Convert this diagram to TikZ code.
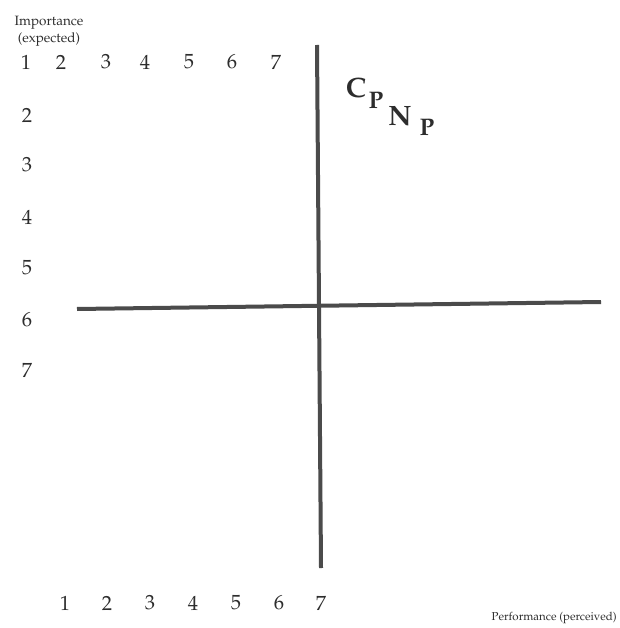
\documentclass[tikz,border=0pt]{standalone}
\usepackage[T1]{fontenc}
\usepackage{mathpazo}
\usepackage{tikz}
\usetikzlibrary{positioning}
\definecolor{axisgray}{RGB}{75,75,75}
\definecolor{inkgray}{RGB}{45,45,45}

\begin{document}
\begin{tikzpicture}[
  x=1pt, y=-1pt,
  num/.style={font=\fontsize{20.5}{22}\selectfont, inner sep=0pt, text=inkgray},
  lbl/.style={font=\fontsize{13.5}{17}\selectfont, inner sep=0pt, align=center, text=inkgray},
  axisline/.style={line width=4pt, axisgray},
  sym/.style={font=\fontsize{28}{30}\selectfont\bfseries, inner sep=0pt, text=inkgray},
  subsym/.style={font=\fontsize{24}{26}\selectfont\bfseries, inner sep=0pt, text=inkgray}
]
\useasboundingbox (0,0) rectangle (619,628);

% axes
\coordinate (vtop) at (317,45);
\coordinate (vbot) at (321,568);
\coordinate (hleft) at (77,309);
\coordinate (hright) at (601,302);
\draw[axisline] (vtop) -- (vbot);
\draw[axisline] (hleft) -- (hright);

% axis titles
\node[lbl] (imp) at (49,31) {Importance\\(expected)};
\node[lbl, font=\fontsize{11.5}{14}\selectfont, anchor=east] (perf) at (617,618) {Performance (perceived)};

% scale numbers
\foreach \n/\x in {1/26, 2/61, 3/106, 4/145, 5/189, 6/232, 7/276}
  \node[num] (top\n) at (\x,62) {\n};
\foreach \n/\y in {2/115, 3/165, 4/217, 5/268, 6/320, 7/370}
  \node[num] (left\n) at (27,\y) {\n};
\foreach \n/\x in {1/65, 2/107, 3/150, 4/193, 5/236, 6/279, 7/321}
  \node[num] (bot\n) at (\x,603) {\n};

% symbols
\node[sym] (cp) at (356,88) {C};
\node[subsym] (cpsub) at (376,101) {P};
\node[sym] (np) at (400,116) {N};
\node[subsym] (npsub) at (427,128) {P};
\end{tikzpicture}
\end{document}
